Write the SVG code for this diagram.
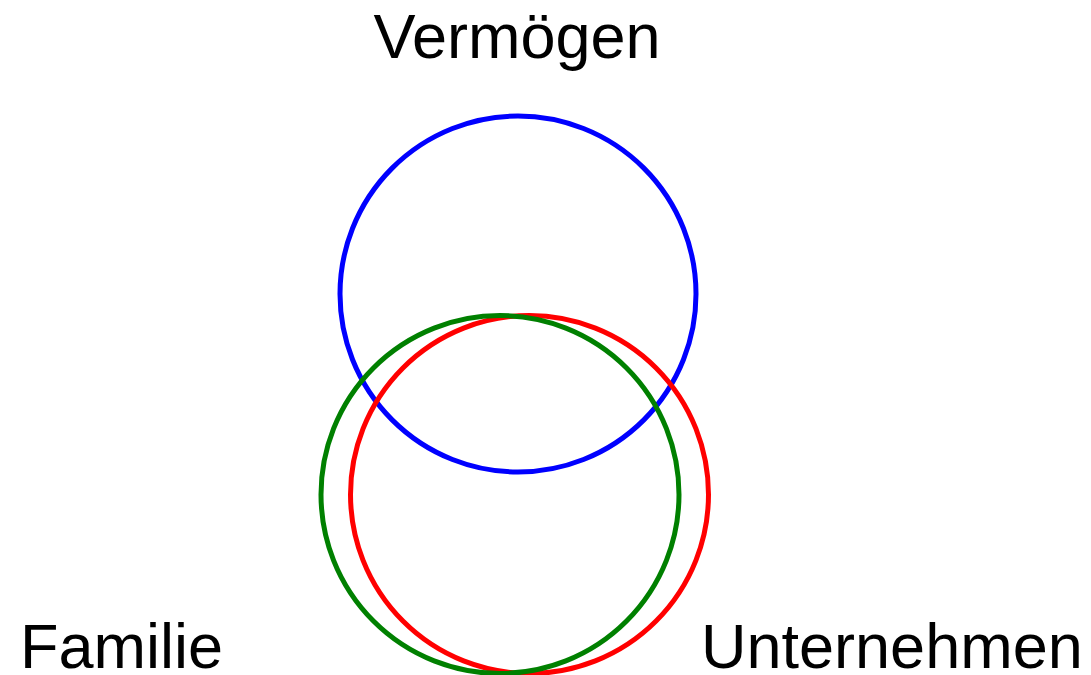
<svg xmlns="http://www.w3.org/2000/svg" width="1091" height="675" viewBox="0 0 1091 675">
<style>
.c{fill:none;stroke-width:5}
.t{font-family:"Liberation Sans",Arial,sans-serif;font-size:63px;fill:#000}
</style>
<rect width="1091" height="675" fill="#fff"/>
<g id="vermoegen"><circle class="c" cx="518" cy="294" r="178" stroke="#0000ff"/><text class="t" x="517" y="58" text-anchor="middle">Vermögen</text></g>
<g id="unternehmen"><circle class="c" cx="529.5" cy="494.5" r="179" stroke="#ff0000"/><text class="t" x="701" y="668">Unternehmen</text></g>
<g id="familie"><circle class="c" cx="500" cy="494.5" r="179" stroke="#008000"/><text class="t" x="20" y="668">Familie</text></g>
<g id="connectors"/>
</svg>
